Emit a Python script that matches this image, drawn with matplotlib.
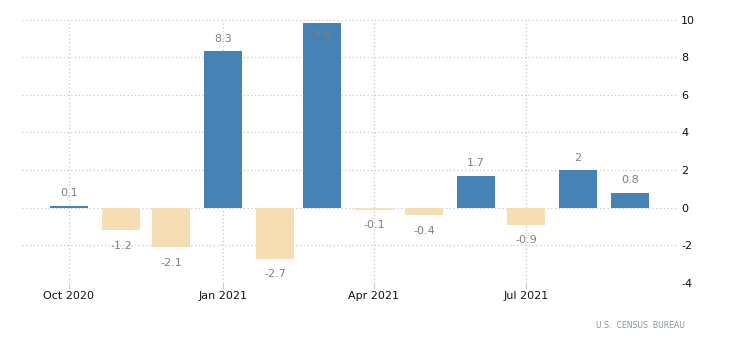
import matplotlib
matplotlib.use("Agg")
import matplotlib.pyplot as plt
import matplotlib.dates as mdates
import numpy as np
import datetime as dt

months = ["2020-10", "2020-11", "2020-12", "2021-01", "2021-02", "2021-03",
          "2021-04", "2021-05", "2021-06", "2021-07", "2021-08", "2021-09"]
values = [0.1, -1.2, -2.1, 8.3, -2.7, 9.8, -0.1, -0.4, 1.7, -0.9, 2, 0.8]
labels = ["0.1", "-1.2", "-2.1", "8.3", "-2.7", "9.8", "-0.1", "-0.4", "1.7", "-0.9", "2", "0.8"]
xtick_dates = ["2020-10", "2021-01", "2021-04", "2021-07"]
xtick_labels = ["Oct 2020", "Jan 2021", "Apr 2021", "Jul 2021"]
yticks = [-4, -2, 0, 2, 4, 6, 8, 10]
source = "U.S.  CENSUS  BUREAU"

def to_date(s):
    y, m = s.split("-")
    return dt.datetime(int(y), int(m), 1)

dates = [to_date(m) for m in months]
x = mdates.date2num(dates)

fig = plt.figure(figsize=(7.3, 3.43), dpi=100)
ax = fig.add_axes([22/730, 60/343, (677-22)/730, (283-19.5)/343])

colors = ["#4682B4" if v >= 0 else "#F5DEB3" for v in values]
ax.bar(x, values, width=23, color=colors, align="center", zorder=2)

ax.set_ylim(-4, 10)
ax.set_xlim(mdates.date2num(dt.datetime(2020, 9, 3)), mdates.date2num(dt.datetime(2021, 9, 29)))

ax.set_yticks(yticks)
ax.set_yticklabels([str(t) for t in yticks])
ax.yaxis.tick_right()
ax.set_xticks([mdates.date2num(to_date(d)) for d in xtick_dates])
ax.set_xticklabels(xtick_labels)

ax.tick_params(axis="y", length=0, pad=3, labelsize=8, labelcolor="#111111")
ax.tick_params(axis="x", length=4, color="#cccccc", pad=2, labelsize=8, labelcolor="#111111")

for s in ax.spines.values():
    s.set_visible(False)

ax.grid(True, axis="both", linestyle=(0, (1, 2)), color="#c8c8c8", linewidth=0.9, zorder=0)
ax.set_axisbelow(True)

for xi, v, lab in zip(x, values, labels):
    if v >= 0:
        off = 9
        if v > 9.0:
            off = -7.5
    else:
        off = -11
    ax.annotate(lab, (xi, v), xytext=(0, off), textcoords="offset points",
                ha="center", va="center", fontsize=8, color="#808080", zorder=3)

fig.text(685/730, 1 - 325/343, source, ha="right", va="center", fontsize=5.6, color="#8090a0")

fig.savefig("out.png", dpi=100)
